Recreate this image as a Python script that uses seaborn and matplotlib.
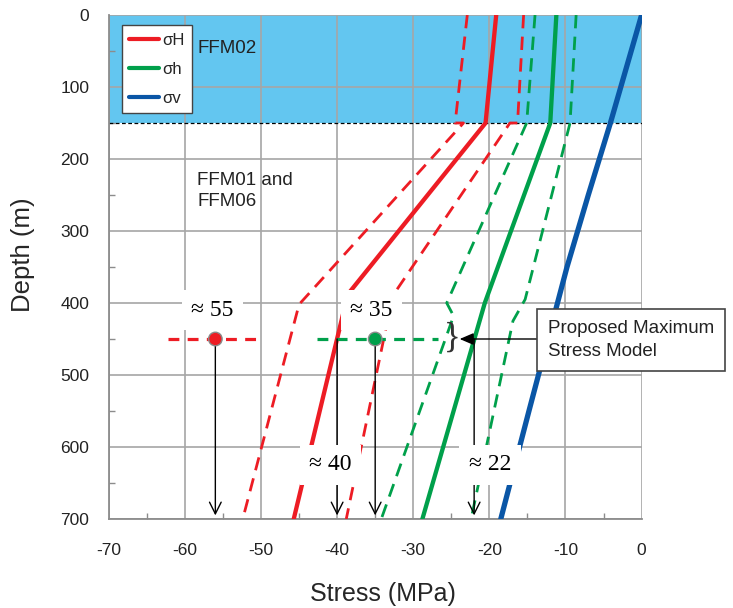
import matplotlib
matplotlib.use("Agg")
import matplotlib.pyplot as plt
from matplotlib.lines import Line2D
from matplotlib.ticker import MultipleLocator
import seaborn as sns

# ---------------- data ----------------
# sigma_H (max horizontal stress): best estimate and bounds
depth_sH = [0, 150, 388, 700]
sH_mean = [-19.1, -20.5, -38.6, -45.7]
depth_sH_lo = [0, 150, 150, 402, 700]
sH_lo = [-22.9, -24.5, -23.4, -45.0, -52.4]
depth_sH_hi = [0, 150, 150, 390, 700]
sH_hi = [-15.5, -16.3, -17.3, -32.7, -38.8]

# sigma_h (min horizontal stress)
depth_sh = [0, 150, 400, 700]
sh_mean = [-11.2, -12.0, -20.6, -28.8]
depth_sh_lo = [0, 150, 400, 418, 700]
sh_lo = [-14.0, -15.1, -25.6, -24.7, -34.2]
depth_sh_hi = [0, 150, 395, 425, 700]
sh_hi = [-8.6, -9.4, -15.3, -16.9, -22.4]

# sigma_v (vertical stress)
depth_sv = [0, 150, 250, 350, 450, 550, 700]
sv = [0.0, -4.1, -7.0, -9.8, -12.3, -14.8, -18.5]

# proposed maximum stress model at 450 m
model_depth = [450, 450]
model_sH_range = [-62.2, -49.9]
model_sh_range = [-42.7, -26.7]
model_points_x = [-56.0, -35.0]
model_points_y = [450, 450]
readoff_x = [-56.0, -35.0, -40.0, -22.0]
readoff_labels = ["≈ 55", "≈ 35", "≈ 40", "≈ 22"]

legend_labels = ["σH", "σh", "σv"]
zone_upper = "FFM02"
zone_lower = "FFM01 and\nFFM06"
x_ticks = [-70, -60, -50, -40, -30, -20, -10, 0]
y_ticks = [0, 100, 200, 300, 400, 500, 600, 700]

# ---------------- style ----------------
RED = "#ED1C24"
GREEN = "#00A04B"
BLUE = "#0A56A6"
BAND = "#63C6F0"
GRID = "#A6A6A6"

sns.set_style("white")
plt.rcParams["font.family"] = ["Liberation Sans", "DejaVu Sans"]
plt.rcParams["axes.unicode_minus"] = False
SERIF = ["Liberation Serif", "DejaVu Serif"]

fig = plt.figure(figsize=(7.33, 6.08), dpi=100)
ax = fig.add_axes([0.1484, 0.1464, 0.7269, 0.8289])

ax.axhspan(0, 150, color=BAND, zorder=0, lw=0)
ax.axhline(150, color="black", lw=0.9, ls=(0, (3, 2)), zorder=2)

dash = (0, (4.8, 3.0))
def curve(xs, ys, color, lw, ls):
    sns.lineplot(x=xs, y=ys, sort=False, estimator=None, color=color,
                 lw=lw, linestyle=ls, ax=ax, zorder=3)

curve(sH_lo, depth_sH_lo, RED, 2.0, dash)
curve(sH_hi, depth_sH_hi, RED, 2.0, dash)
curve(sh_lo, depth_sh_lo, GREEN, 2.0, dash)
curve(sh_hi, depth_sh_hi, GREEN, 2.0, dash)
curve(sH_mean, depth_sH, RED, 3.1, "-")
curve(sh_mean, depth_sh, GREEN, 3.1, "-")
curve(sv, depth_sv, BLUE, 3.8, "-")

mdash = (0, (3.4, 2.6))
curve(model_sH_range, model_depth, RED, 2.3, mdash)
curve(model_sh_range, model_depth, GREEN, 2.3, mdash)

# read-off arrows
for xv in readoff_x:
    ax.annotate("", xy=(xv, 695), xytext=(xv, 450),
                arrowprops=dict(arrowstyle="->,head_length=0.6,head_width=0.3",
                                color="black", lw=1.0, shrinkA=0, shrinkB=0,
                                mutation_scale=14), zorder=4)

sns.scatterplot(x=model_points_x, y=model_points_y, hue=[0, 1],
                palette=[RED, GREEN], s=95, edgecolor="#8a8a8a",
                linewidth=1.0, ax=ax, legend=False, zorder=6)

label_pos = [(-56.4, 410), (-35.5, 410), (-40.9, 625), (-19.9, 625)]
for (lx, ly), txt in zip(label_pos, readoff_labels):
    ax.text(lx, ly, txt, ha="center", va="center", fontsize=17, family=SERIF,
            color="black", zorder=7,
            bbox=dict(boxstyle="square,pad=0.4", fc="white", ec="none"))

# proposed model box + arrow + brace
ax.annotate("", xy=(-23.9, 450), xytext=(-13.6, 450),
            arrowprops=dict(arrowstyle="-|>,head_length=0.7,head_width=0.3",
                            color="black", lw=1.0, shrinkA=0, shrinkB=0,
                            mutation_scale=12), zorder=5, annotation_clip=False)
ax.text(-24.9, 449, "}", ha="center", va="center", fontsize=25, family=SERIF,
        color="#333333", zorder=5)
ax.text(-12.3, 451, "Proposed Maximum\nStress Model", ha="left", va="center",
        fontsize=13.5, color="#222222", zorder=8, clip_on=False, linespacing=1.45,
        bbox=dict(boxstyle="square,pad=0.58", fc="white", ec="#444444", lw=1.2))

# zone labels
ax.text(-58.4, 34.5, zone_upper, ha="left", va="top", fontsize=13.5, color="#222222", zorder=5)
ax.text(-58.4, 217.5, zone_lower, ha="left", va="top", fontsize=13.5, color="#222222",
        linespacing=1.3, zorder=5)

# axes
ax.set_xlim(-70, 0)
ax.set_ylim(700, 0)
ax.set_xticks(x_ticks)
ax.set_yticks(y_ticks)
ax.xaxis.set_minor_locator(MultipleLocator(5))
ax.yaxis.set_minor_locator(MultipleLocator(50))
ax.set_axisbelow(True)
ax.grid(True, which="major", color=GRID, lw=1.2, zorder=1)
for s in ["top", "right"]:
    ax.spines[s].set_visible(False)
for s in ["left", "bottom"]:
    ax.spines[s].set_color("#8c8c8c")
    ax.spines[s].set_linewidth(1.3)
ax.tick_params(which="major", direction="out", length=5, width=1.2, color="#8c8c8c",
               labelsize=12.5, labelcolor="#222222")
ax.tick_params(axis="x", which="major", pad=12)
ax.tick_params(axis="y", which="major", pad=9)
ax.tick_params(which="minor", direction="in", length=4, width=1.0, color="#8c8c8c",
               left=True, bottom=True)
ax.set_xlabel("Stress (MPa)", fontsize=18, labelpad=18)
ax.set_ylabel("Depth (m)", fontsize=18.5, labelpad=18)
ax.xaxis.set_label_coords(0.515, -0.125)
ax.yaxis.label.set_y(0.524)

handles = [Line2D([0], [0], color=c, lw=3.0) for c in (RED, GREEN, BLUE)]
leg = ax.legend(handles, legend_labels, loc="upper left", bbox_to_anchor=(0.0248, 0.980),
                borderaxespad=0, frameon=True, fancybox=False, edgecolor="#444444",
                fontsize=12, handlelength=1.8, handletextpad=0.15, labelspacing=0.85,
                borderpad=0.45, framealpha=1)
leg.get_frame().set_linewidth(1.0)
leg.set_zorder(9)

fig.savefig("out.png", dpi=100)
